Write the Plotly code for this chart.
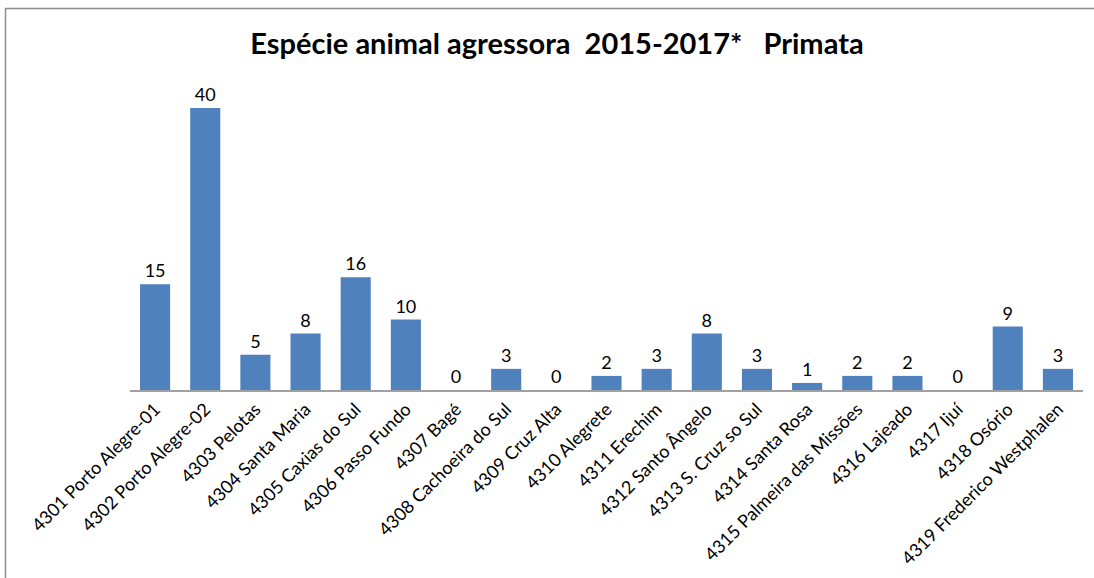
import plotly.graph_objects as go

categories = [
    "4301 Porto Alegre-01", "4302 Porto Alegre-02", "4303 Pelotas", "4304 Santa Maria",
    "4305 Caxias do Sul", "4306 Passo Fundo", "4307 Bagé", "4308 Cachoeira do Sul",
    "4309 Cruz Alta", "4310 Alegrete", "4311 Erechim", "4312 Santo Ângelo",
    "4313 S. Cruz so Sul", "4314 Santa Rosa", "4315 Palmeira das Missões",
    "4316 Lajeado", "4317 Ijuí", "4318 Osório", "4319 Frederico Westphalen",
]
values = [15, 40, 5, 8, 16, 10, 0, 3, 0, 2, 3, 8, 3, 1, 2, 2, 0, 9, 3]
title = "Espécie animal agressora  2015-2017*   Primata"

W, H = 1094, 578
ml, mr, mt, mb = 130, 11, 80, 188
pw, ph = W - ml - mr, H - mt - mb

FONT = "Lato, 'Open Sans', sans-serif"

fig = go.Figure(go.Bar(
    x=categories, y=values,
    marker=dict(color="#4F81BD", line=dict(width=0)),
    text=[str(v) for v in values], textposition="outside",
    textfont=dict(size=18, color="#000000", family=FONT),
    cliponaxis=False,
))

fig.update_layout(
    width=W, height=H,
    margin=dict(l=ml, r=mr, t=mt, b=mb, autoexpand=False),
    paper_bgcolor="white", plot_bgcolor="white",
    bargap=0.4,
    showlegend=False,
    title=dict(text="<b>" + title + "</b>", x=557 / W, xref="container", xanchor="center",
               y=1 - 44 / H, yref="container", yanchor="middle",
               font=dict(size=29, color="#000000", family=FONT)),
    xaxis=dict(tickangle=-45, showline=True, linecolor="#A0A0A0", linewidth=1.5,
               ticks="", automargin=False,
               tickfont=dict(size=18, color="#000000", family=FONT)),
    yaxis=dict(range=[0, ph / (282 / 40)], visible=False, showgrid=False, zeroline=False,
               automargin=False),
    shapes=[
        dict(type="line", xref="paper", yref="paper",
             x0=(5 - ml) / pw, x1=(W + 10 - ml) / pw,
             y0=(H - mb - 8.5) / ph, y1=(H - mb - 8.5) / ph,
             line=dict(color="#8C8C8C", width=1.5), layer="below"),
        dict(type="line", xref="paper", yref="paper",
             x0=(5.5 - ml) / pw, x1=(5.5 - ml) / pw,
             y0=(H - mb - 8.5) / ph, y1=(H - mb - (H + 10)) / ph,
             line=dict(color="#8C8C8C", width=1.5), layer="below"),
    ],
)

fig.write_html("out.html", config={"displayModeBar": False},
               post_script="document.body.style.margin='0';")
